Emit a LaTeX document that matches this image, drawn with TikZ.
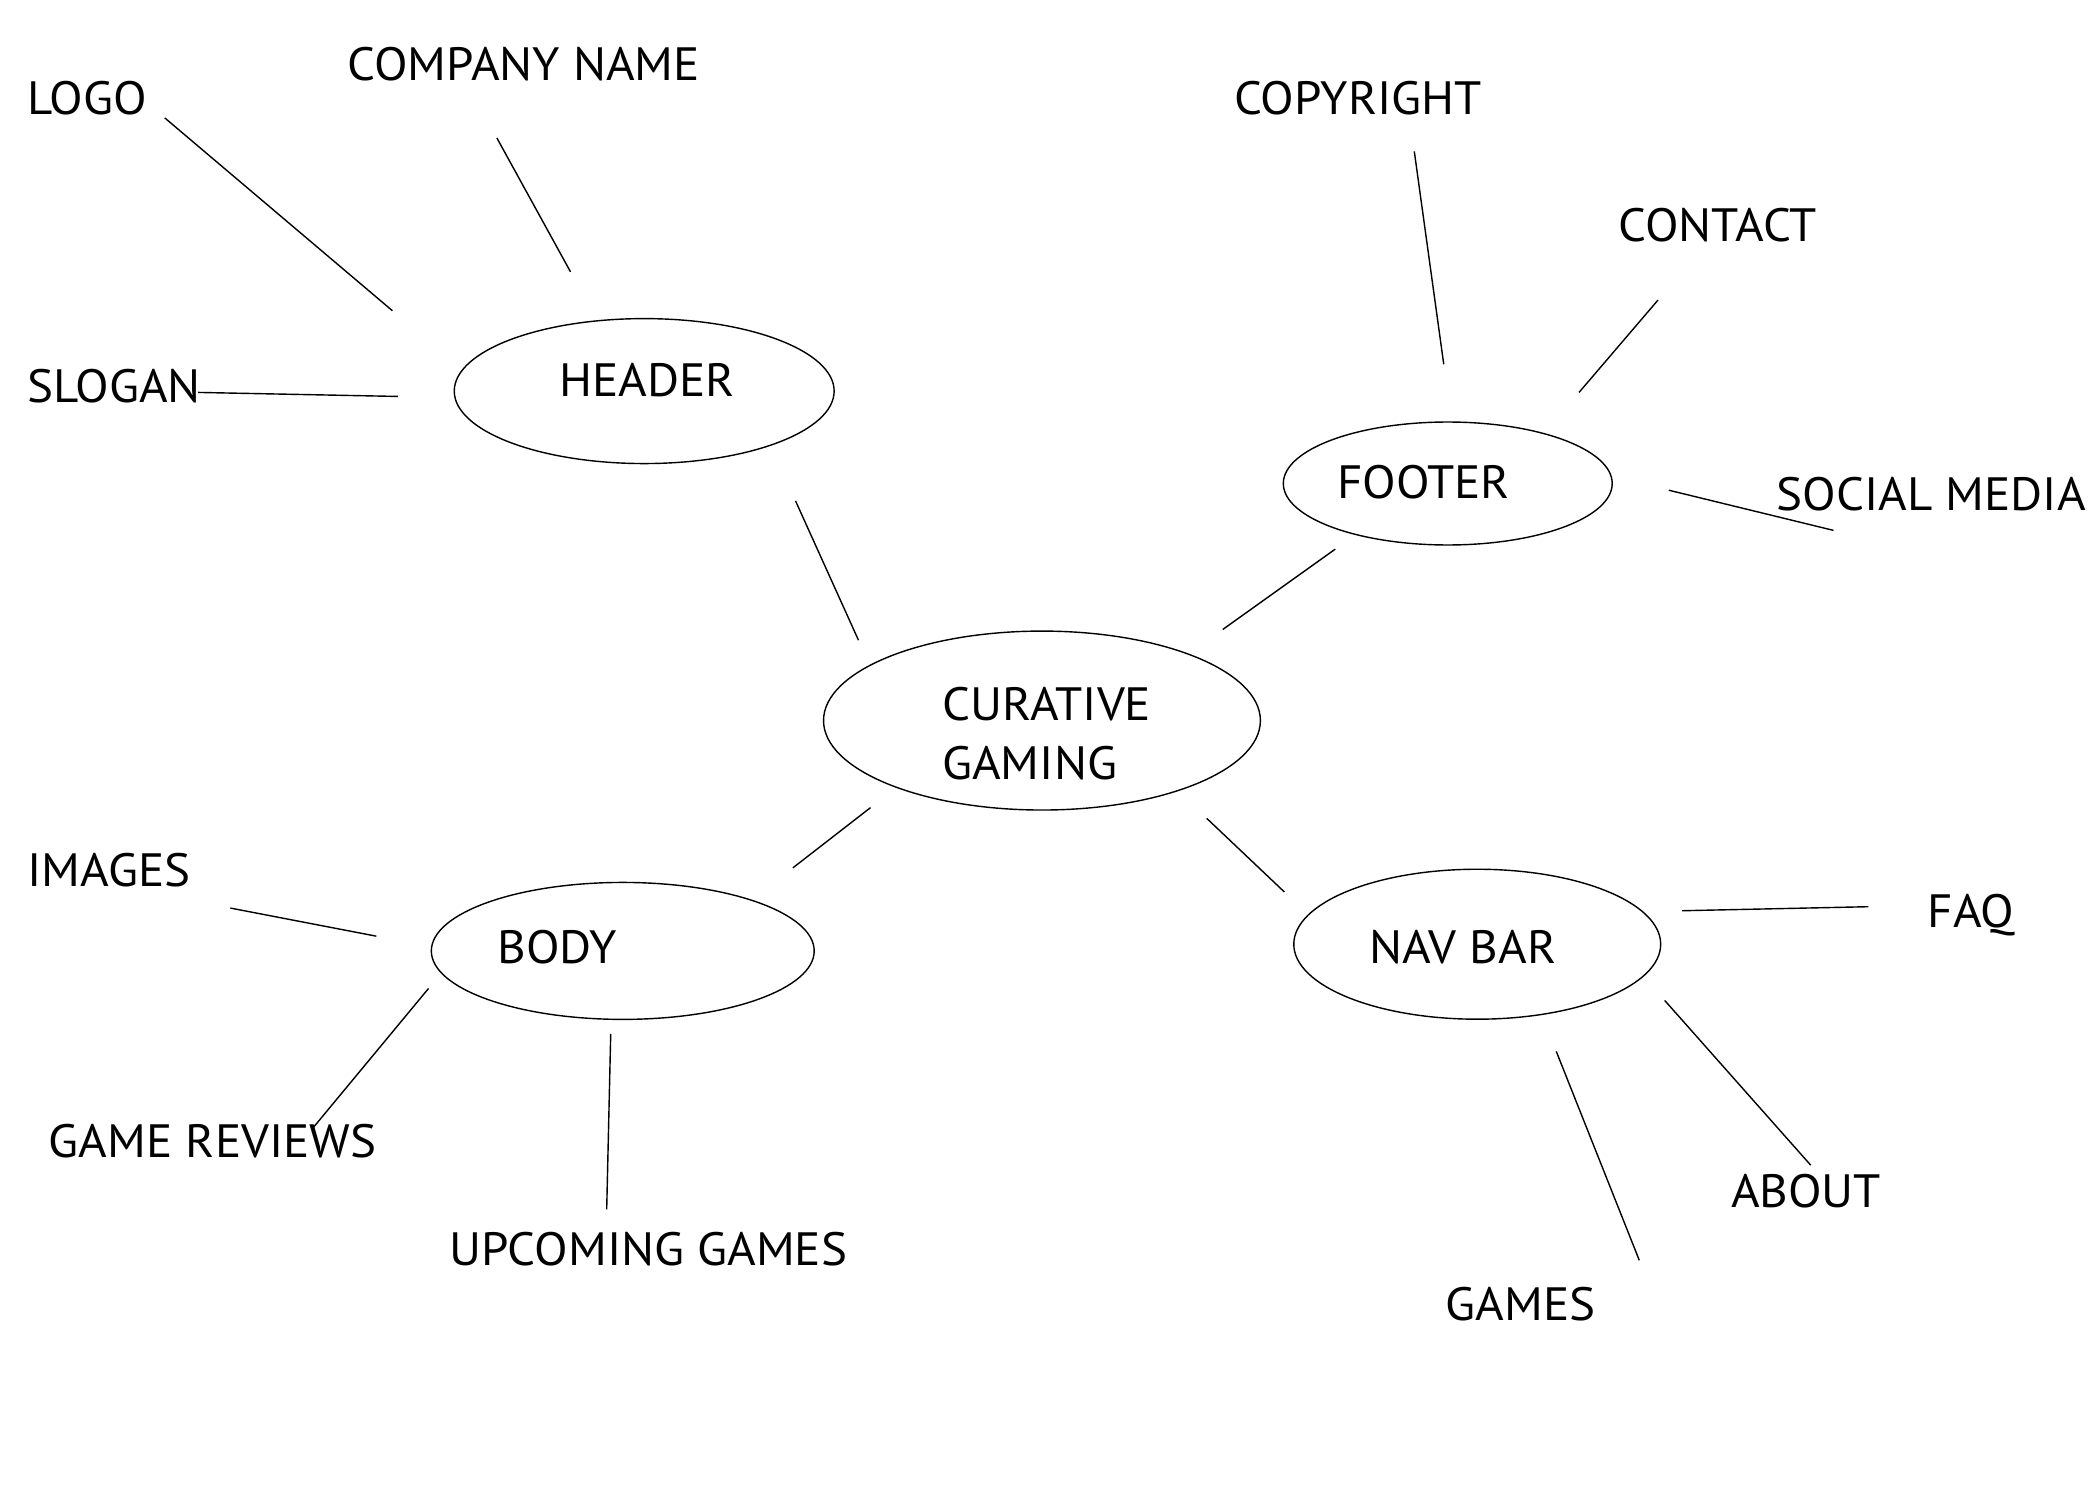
\documentclass[tikz,border=0pt]{standalone}
\usepackage{fontspec}
\setmainfont{PT Sans}[FakeStretch=1.05]
\usetikzlibrary{shapes.geometric}

\begin{document}
\begin{tikzpicture}[x=0.01339cm, y=-0.01339cm]
    \tikzset{bubble/.style= {draw, ellipse
    , inner sep=0pt
    , line width=0.4pt
      }
    , word/.style= {anchor=west, inner sep=0pt
    , font=\fontsize{13.3}{16.8}\selectfont
      }
    , spoke/.style= {draw, line width=0.4pt}
    }
\useasboundingbox (0,0) rectangle (1568,1120);

% the five bubbles
\node [bubble, minimum width=3.80cm, minimum height=1.45cm] (header) at (481,292) {};
\node [bubble, minimum width=3.29cm, minimum height=1.23cm] (footer) at (1081,361) {};
\node [bubble, minimum width=4.37cm, minimum height=1.79cm] (main) at (778,538) {};
\node [bubble, minimum width=3.83cm, minimum height=1.37cm] (body) at (465,710) {};
\node [bubble, minimum width=3.67cm, minimum height=1.50cm] (navbar) at (1103,705) {};

\node [word] (headertxt) at (417,284) {HEADER};
\node [word] (footertxt) at (998,360) {FOOTER};
\node [word, align=left] (maintxt) at (703,548) {CURATIVE\\GAMING};
\node [word] (bodytxt) at (371,707) {BODY};
\node [word] (navbartxt) at (1022,707) {NAV BAR};

% outer labels
\node [word] (logo) at (20,73) {LOGO};
\node [word] (company) at (259,48) {COMPANY NAME};
\node [word] (slogan) at (20,288) {SLOGAN};
\node [word] (copyright) at (921,73) {COPYRIGHT};
\node [word] (contact) at (1208,168) {CONTACT};
\node [word] (social) at (1326,369) {SOCIAL MEDIA};
\node [word] (images) at (20,650) {IMAGES};
\node [word] (reviews) at (36,852) {GAME REVIEWS};
\node [word] (upcoming) at (335,933) {UPCOMING GAMES};
\node [word] (faq) at (1439,683) {FAQ};
\node [word] (about) at (1292,889) {ABOUT};
\node [word] (games) at (1079,974) {GAMES};

% line ends
\coordinate (logo-a) at (123,88);      \coordinate (logo-b) at (293,232);
\coordinate (company-a) at (371,103);  \coordinate (company-b) at (426,203);
\coordinate (slogan-a) at (148,293);   \coordinate (slogan-b) at (297,296);
\coordinate (header-a) at (594,374);   \coordinate (header-b) at (641,478);
\coordinate (copyright-a) at (1056,113); \coordinate (copyright-b) at (1078,272);
\coordinate (contact-a) at (1238,224); \coordinate (contact-b) at (1179,293);
\coordinate (social-a) at (1369,396);  \coordinate (social-b) at (1246,366);
\coordinate (footer-a) at (997,410);   \coordinate (footer-b) at (913,470);
\coordinate (body-a) at (650,603);     \coordinate (body-b) at (592,648);
\coordinate (navbar-a) at (901,611);   \coordinate (navbar-b) at (959,666);
\coordinate (images-a) at (172,678);   \coordinate (images-b) at (281,699);
\coordinate (reviews-a) at (233,843);  \coordinate (reviews-b) at (320,738);
\coordinate (upcoming-a) at (453,903); \coordinate (upcoming-b) at (456,772);
\coordinate (faq-a) at (1395,677);     \coordinate (faq-b) at (1256,680);
\coordinate (about-a) at (1352,870);   \coordinate (about-b) at (1243,747);
\coordinate (games-a) at (1224,941);   \coordinate (games-b) at (1162,785);

\foreach \n in {logo,company,slogan,header,copyright,contact,social,footer,
    body,navbar,images,reviews,upcoming,faq,about,games}
  \path[spoke] (\n-a) -- (\n-b);
\end{tikzpicture}
\end{document}
